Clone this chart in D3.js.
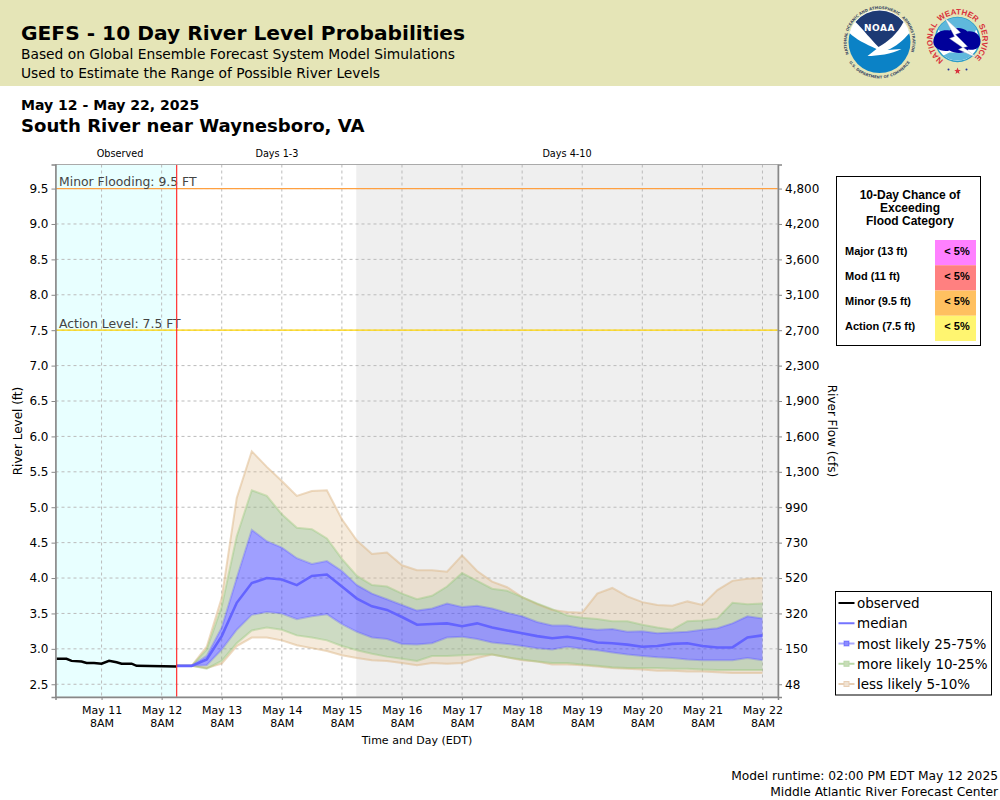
<!DOCTYPE html>
<html>
<head>
<meta charset="utf-8">
<script src="https://cdn.jsdelivr.net/npm/d3@7"></script>
<style>
  html, body { margin: 0; padding: 0; background: #fff; }
  svg { display: block; }
  text { font-family: "DejaVu Sans", sans-serif; fill: #000; }
  .box text { font-family: "Liberation Sans", Arial, sans-serif; font-weight: bold; }
</style>
</head>
<body>
<script>
// river level in ft
const observedTimes = ['2025-05-10T14:00', '2025-05-10T18:00', '2025-05-10T20:00', '2025-05-11T00:00',
  '2025-05-11T02:00', '2025-05-11T05:00', '2025-05-11T08:00', '2025-05-11T11:00', '2025-05-11T14:00',
  '2025-05-11T16:00', '2025-05-11T20:00', '2025-05-11T22:00', '2025-05-12T14:00'];
const observed = [2.86, 2.86, 2.83, 2.82, 2.80, 2.80, 2.79, 2.83, 2.81, 2.79, 2.79, 2.76, 2.75];

// forecast is 6-hourly, May 12 2PM to May 22 8AM
const q95 = [2.76, 2.76, 3.03, 3.72, 5.13, 5.79, 5.57, 5.37, 5.16, 5.23, 5.24, 4.83, 4.53, 4.34, 4.36, 4.18, 4.11, 4.11, 4.09, 4.32,
  4.10, 3.95, 3.87, 3.73, 3.63, 3.55, 3.52, 3.51, 3.78, 3.86, 3.74, 3.66, 3.62, 3.61, 3.67, 3.62, 3.83, 3.96, 3.99, 4.00];
const q90 = [2.76, 2.76, 2.99, 3.60, 4.59, 5.24, 5.16, 4.90, 4.71, 4.69, 4.56, 4.27, 4.03, 3.90, 3.88, 3.78, 3.70, 3.75, 3.88, 4.07,
  3.96, 3.85, 3.82, 3.73, 3.64, 3.56, 3.47, 3.44, 3.42, 3.39, 3.39, 3.34, 3.30, 3.27, 3.39, 3.40, 3.43, 3.65, 3.63, 3.64];
const q75 = [2.76, 2.76, 2.90, 3.30, 4.00, 4.68, 4.52, 4.43, 4.28, 4.20, 4.24, 4.10, 3.90, 3.78, 3.70, 3.62, 3.54, 3.57, 3.64, 3.59,
  3.61, 3.57, 3.51, 3.46, 3.38, 3.33, 3.33, 3.29, 3.27, 3.28, 3.24, 3.25, 3.22, 3.23, 3.24, 3.27, 3.29, 3.36, 3.46, 3.43];
const median = [2.76, 2.76, 2.85, 3.18, 3.65, 3.93, 4.00, 3.98, 3.90, 4.03, 4.05, 3.88, 3.71, 3.60, 3.55, 3.45, 3.34, 3.35, 3.36, 3.32,
  3.36, 3.30, 3.26, 3.22, 3.18, 3.15, 3.17, 3.14, 3.09, 3.08, 3.06, 3.03, 3.04, 3.07, 3.08, 3.04, 3.02, 3.02, 3.16, 3.19];
const q25 = [2.76, 2.76, 2.77, 2.99, 3.27, 3.48, 3.52, 3.50, 3.42, 3.46, 3.49, 3.35, 3.24, 3.16, 3.14, 3.07, 3.06, 3.08, 3.16, 3.17,
  3.14, 3.09, 3.07, 3.04, 3.01, 2.99, 3.03, 3.00, 2.98, 2.95, 2.92, 2.90, 2.88, 2.87, 2.85, 2.84, 2.84, 2.84, 2.87, 2.84];
const q10 = [2.76, 2.76, 2.72, 2.83, 3.08, 3.26, 3.30, 3.27, 3.19, 3.16, 3.12, 3.04, 2.98, 2.93, 2.89, 2.86, 2.83, 2.90, 2.90, 2.91,
  2.92, 2.92, 2.88, 2.85, 2.82, 2.80, 2.80, 2.78, 2.76, 2.74, 2.73, 2.73, 2.73, 2.72, 2.72, 2.71, 2.70, 2.70, 2.70, 2.70];
const q05 = [2.76, 2.76, 2.73, 2.79, 3.04, 3.16, 3.16, 3.12, 3.05, 3.01, 2.97, 2.91, 2.87, 2.84, 2.83, 2.80, 2.77, 2.80, 2.79, 2.80,
  2.87, 2.92, 2.88, 2.84, 2.82, 2.78, 2.78, 2.77, 2.75, 2.73, 2.72, 2.71, 2.69, 2.69, 2.68, 2.68, 2.67, 2.66, 2.66, 2.66];

const levelTicks = [2.5, 3, 3.5, 4, 4.5, 5, 5.5, 6, 6.5, 7, 7.5, 8, 8.5, 9, 9.5];
const flowLabels = ['48', '150', '320', '520', '730', '990', '1,300', '1,600', '1,900', '2,300', '2,700', '3,100', '3,600', '4,200', '4,800'];
const dayTicks = ['2025-05-11', '2025-05-12', '2025-05-13', '2025-05-14', '2025-05-15', '2025-05-16',
  '2025-05-17', '2025-05-18', '2025-05-19', '2025-05-20', '2025-05-21', '2025-05-22'];

const floodNames = ['Major (13 ft)', 'Mod (11 ft)', 'Minor (9.5 ft)', 'Action (7.5 ft)'];
const floodChance = ['< 5%', '< 5%', '< 5%', '< 5%'];
const floodColors = ['#ff80ff', '#ff8080', '#ffc060', '#fff570'];

const legendNames = ['observed', 'median', 'most likely 25-75%', 'more likely 10-25%', 'less likely 5-10%'];

const BLUE = 'rgba(64,64,255,0.5)', GREEN = 'rgba(150,180,130,0.48)', TAN = 'rgba(222,184,135,0.3)';
const BLUE_EDGE = 'rgba(64,64,255,0.25)', GREEN_EDGE = 'rgba(150,200,120,0.4)', TAN_EDGE = 'rgba(222,184,135,0.5)';

const parseTime = d3.timeParse('%Y-%m-%dT%H:%M');
const runTime = parseTime('2025-05-12T14:00');
const days13 = parseTime('2025-05-15T13:45');
const forecastTimes = d3.timeHour.range(runTime, parseTime('2025-05-22T09:00'), 6);

const svg = d3.select('body').append('svg').attr('width', 1000).attr('height', 800);

// header band
svg.append('rect').attr('width', 1000).attr('height', 86).attr('fill', '#e5e5b7');
const addText = (tx, ty, str, size, weight, anchor) => svg.append('text')
  .attr('x', tx).attr('y', ty)
  .attr('text-anchor', anchor || 'start')
  .style('font-size', size + 'px')
  .style('font-weight', weight || 'normal')
  .text(str);

addText(21, 40, 'GEFS - 10 Day River Level Probabilities', 20.2, 'bold');
addText(21, 59, 'Based on Global Ensemble Forecast System Model Simulations', 13.8);
addText(21, 78, 'Used to Estimate the Range of Possible River Levels', 13.8);
addText(21, 110, 'May 12 - May 22, 2025', 14.05, 'bold');
addText(21, 132, 'South River near Waynesboro, VA', 18.1, 'bold');
addText(120, 157, 'Observed', 9.7, 'normal', 'middle');
addText(277, 157, 'Days 1-3', 9.7, 'normal', 'middle');
addText(567, 157, 'Days 4-10', 9.7, 'normal', 'middle');
addText(998, 780, 'Model runtime: 02:00 PM EDT May 12 2025', 12.27, 'normal', 'end');
addText(998, 796, 'Middle Atlantic River Forecast Center', 12.27, 'normal', 'end');

// plot
const plotL = 55.5, plotR = 778, plotT = 164.5, plotB = 697;
const x = d3.scaleTime()
  .domain([parseTime('2025-05-10T13:36'), parseTime('2025-05-22T14:12')])
  .range([plotL, plotR]);
const y = d3.scaleLinear().domain([2.32, 9.84]).range([plotB, plotT]);

svg.append('rect').attr('x', plotL).attr('y', plotT)
  .attr('width', x(runTime) - plotL).attr('height', plotB - plotT).attr('fill', '#e8ffff');
svg.append('rect').attr('x', x(days13)).attr('y', plotT)
  .attr('width', plotR - x(days13)).attr('height', plotB - plotT).attr('fill', '#efefef');

const dayDates = dayTicks.map(d => parseTime(d + 'T08:00'));

// grid
svg.append('g').selectAll('line').data(levelTicks).enter().append('line')
  .attr('x1', plotL).attr('x2', plotR).attr('y1', d => y(d)).attr('y2', d => y(d))
  .attr('stroke', '#bbb').attr('stroke-dasharray', '3,3');
svg.append('g').selectAll('line').data(dayDates).enter().append('line')
  .attr('x1', d => x(d)).attr('x2', d => x(d)).attr('y1', plotT).attr('y2', plotB)
  .attr('stroke', '#bbb').attr('stroke-dasharray', '3,3');

// bands
const band = (upper, lower) => d3.area()
  .x((d, i) => x(forecastTimes[i]))
  .y0((d, i) => y(lower[i]))
  .y1((d, i) => y(upper[i]))(forecastTimes);
const trace = d3.line().x((d, i) => x(forecastTimes[i])).y(d => y(d));

[[q95, q90, TAN], [q10, q05, TAN], [q90, q75, GREEN], [q25, q10, GREEN], [q75, q25, BLUE]].forEach(b => {
  svg.append('path').attr('d', band(b[0], b[1])).attr('fill', b[2]);
});
[[q95, TAN_EDGE], [q05, TAN_EDGE], [q90, GREEN_EDGE], [q10, GREEN_EDGE], [q75, BLUE_EDGE], [q25, BLUE_EDGE]].forEach(e => {
  svg.append('path').attr('d', trace(e[0])).attr('fill', 'none').attr('stroke', e[1]).attr('stroke-width', 2);
});
svg.append('path').attr('d', trace(median)).attr('fill', 'none')
  .attr('stroke', '#6464ff').attr('stroke-width', 2.6);

svg.append('path')
  .attr('d', d3.line().x((d, i) => x(parseTime(observedTimes[i]))).y(d => y(d))(observed))
  .attr('fill', 'none').attr('stroke', '#000').attr('stroke-width', 2.5);

// flood lines
svg.append('line').attr('x1', plotL).attr('x2', plotR).attr('y1', y(9.5)).attr('y2', y(9.5))
  .attr('stroke', '#ffa040').attr('stroke-width', 1.2);
svg.append('line').attr('x1', plotL).attr('x2', plotR).attr('y1', y(7.5)).attr('y2', y(7.5))
  .attr('stroke', '#ffd400').attr('stroke-width', 1.2);
addText(59, 186, 'Minor Flooding: 9.5 FT', 12.4).style('fill', '#444');
addText(59, 328, 'Action Level: 7.5 FT', 12.4).style('fill', '#444');
svg.append('line').attr('x1', x(runTime)).attr('x2', x(runTime)).attr('y1', plotT).attr('y2', plotB)
  .attr('stroke', '#ff3030').attr('stroke-width', 1.2);

// frame and axes
svg.append('rect').attr('x', plotL).attr('y', plotT).attr('width', plotR - plotL).attr('height', plotB - plotT)
  .attr('fill', 'none').attr('stroke', '#aaa');

const styleAxis = g => {
  g.selectAll('.domain').attr('stroke', '#888').attr('stroke-width', 1.5);
  g.selectAll('.tick line').attr('stroke', '#888');
  g.selectAll('.tick text').style('font-size', '12px').style('font-family', '"DejaVu Sans", sans-serif');
};

svg.append('g').attr('transform', `translate(${plotL},0)`)
  .call(d3.axisLeft(y).tickValues(levelTicks).tickFormat(d3.format('.1f')).tickSizeOuter(0).tickSize(4))
  .call(styleAxis);

svg.append('g').attr('transform', `translate(${plotR},0)`)
  .call(d3.axisRight(y).tickValues(levelTicks).tickFormat((d, i) => flowLabels[i]).tickSizeOuter(0).tickSize(4))
  .call(styleAxis);

const xAxis = svg.append('g').attr('transform', `translate(0,${plotB})`)
  .call(d3.axisBottom(x).tickValues(dayDates).tickFormat(d3.timeFormat('%b %d')).tickSizeOuter(0).tickSize(3))
  .call(styleAxis);
xAxis.selectAll('.tick text').each(function () {
  const label = d3.select(this);
  const day = label.text();
  label.text(null).style('font-size', '11px');
  label.append('tspan').attr('x', 0).attr('y', 9).attr('dy', '0.71em').text(day);
  label.append('tspan').attr('x', 0).attr('y', 22).attr('dy', '0.71em').text('8AM');
});

addText(417, 744, 'Time and Day (EDT)', 11, 'normal', 'middle');
svg.append('text').attr('transform', 'translate(22,431) rotate(-90)').attr('text-anchor', 'middle')
  .style('font-size', '12px').text('River Level (ft)');
svg.append('text').attr('transform', 'translate(828,431) rotate(90)').attr('text-anchor', 'middle')
  .style('font-size', '12px').text('River Flow (cfs)');

// flood category box
const box = svg.append('g').attr('class', 'box');
box.append('rect').attr('x', 836.5).attr('y', 176.5).attr('width', 144).attr('height', 169)
  .attr('fill', '#fff').attr('stroke', '#000');
['10-Day Chance of', 'Exceeding', 'Flood Category'].forEach((t, i) => {
  box.append('text').attr('x', 910).attr('y', 199 + i * 13).attr('text-anchor', 'middle')
    .style('font-size', '12px').text(t);
});
const rowY = d3.scaleBand().domain(floodNames).range([240, 341]);
floodNames.forEach((cat, i) => {
  box.append('rect').attr('x', 935).attr('y', rowY(cat)).attr('width', 41).attr('height', rowY.bandwidth())
    .attr('fill', floodColors[i]);
  box.append('text').attr('x', 845).attr('y', Math.floor(rowY(cat)) + 15).style('font-size', '11px').text(cat);
  box.append('text').attr('x', 957).attr('y', Math.floor(rowY(cat)) + 15).attr('text-anchor', 'middle')
    .style('font-size', '11px').text(floodChance[i]);
});

// legend
const legendBox = svg.append('g');
legendBox.append('rect').attr('x', 835.5).attr('y', 591.5).attr('width', 156).attr('height', 103.5)
  .attr('fill', '#fff').attr('stroke', '#000');
const legendY = d3.scalePoint().domain(legendNames).range([603, 684]);
const legendStyle = [
  { line: '#000', width: 2 },
  { line: '#7474ff', width: 2 },
  { line: 'rgba(64,64,255,0.45)', width: 2, fill: '#8c8cff' },
  { line: '#b9d8a8', width: 2, fill: '#c8dcb8' },
  { line: '#e8cfb5', width: 2, fill: '#f0e2d2' }
];
legendNames.forEach((entry, i) => {
  const ly = legendY(entry), st = legendStyle[i];
  legendBox.append('line').attr('x1', 838.5).attr('x2', 854.5).attr('y1', ly).attr('y2', ly)
    .attr('stroke', st.line).attr('stroke-width', st.width);
  if (st.fill) {
    legendBox.append('rect').attr('x', 844).attr('y', ly - 2.5).attr('width', 5).attr('height', 5)
      .attr('fill', st.fill).attr('stroke', st.line);
  }
  legendBox.append('text').attr('x', 857).attr('y', ly + 5).style('font-size', '13.5px').text(entry);
});

// curved logo text: angles in degrees clockwise from the top
const arcPath = (r, a0, a1) => {
  const rad = d => d * Math.PI / 180;
  const sweep = a1 > a0 ? 1 : 0;
  const big = Math.abs(a1 - a0) > 180 ? 1 : 0;
  return `M${r * Math.sin(rad(a0))},${-r * Math.cos(rad(a0))} A${r},${r} 0 ${big} ${sweep} ${r * Math.sin(rad(a1))},${-r * Math.cos(rad(a1))}`;
};
const arcText = (g, id, str, r, a0, a1, size, color, family) => {
  g.append('path').attr('id', id).attr('fill', 'none').attr('d', arcPath(r, a0, a1));
  g.append('text').style('font-size', size + 'px').style('font-weight', 'bold').style('fill', color)
    .style('font-family', family || '"DejaVu Sans", sans-serif')
    .append('textPath').attr('href', '#' + id).attr('startOffset', '50%').attr('text-anchor', 'middle')
    .text(str);
};

// NOAA logo
const noaa = svg.append('g').attr('transform', 'translate(879.5,42)');
noaa.append('circle').attr('r', 31).attr('fill', '#0b82c6');
noaa.append('path').attr('fill', '#fff')
  .attr('d', 'M-30,-9 A31,31 0 0 1 30,-9 C24,-2 16,5 8,8 L22,7 C12,12 -2,14 -12,14 L-3,7 C-14,2 -24,-3 -30,-9Z');
noaa.append('path').attr('fill', '#1d3a74')
  .attr('d', 'M-24,-20 A31,31 0 0 1 24,-20 C18,-8 8,0 -1,5 C-8,-2 -16,-12 -24,-20Z');
noaa.append('text').attr('y', -11).attr('text-anchor', 'middle')
  .style('font-size', '9px').style('font-weight', 'bold').style('letter-spacing', '0.5px').style('fill', '#fff').text('NOAA');
arcText(noaa, 'noaaLeft', 'NATIONAL OCEANIC', 33, -125, -25, 3.8, '#3c4a66');
arcText(noaa, 'noaaTop', 'AND ATMOSPHERIC', 33, -40, 40, 3.8, '#3c4a66');
arcText(noaa, 'noaaRight', 'ADMINISTRATION', 33, 25, 125, 3.8, '#3c4a66');
arcText(noaa, 'noaaBottom', 'U.S. DEPARTMENT OF COMMERCE', 36.5, 240, 120, 3.8, '#3c4a66');

// NWS logo
const nws = svg.append('g').attr('transform', 'translate(957.5,39.5)');
nws.append('circle').attr('r', 22).attr('fill', '#fff').attr('stroke', '#2b9cc8').attr('stroke-width', 1.5);
nws.append('path').attr('fill', '#5fb8dc').attr('d', 'M-19,-11 A22,22 0 0 1 19,-11 L16,-4 L-16,-4Z');
nws.append('path').attr('fill', '#5fb8dc').attr('d', 'M-14,16 A22,22 0 0 0 14,16 L8,13 L-8,13Z');
nws.append('path').attr('fill', '#00009a')
  .attr('d', 'M-24,0 C-22,-9 -13,-10 -8,-9 C-2,-13 6,-12 10,-8 C17,-9 23,-5 23,2 C23,9 17,11 11,10 C6,15 -3,14 -8,11 C-15,13 -26,9 -24,0Z');
nws.append('path').attr('fill', '#fff').attr('stroke', '#9ab').attr('stroke-width', 0.4)
  .attr('d', 'M-13,-22 L3,-7 L-2,-5 L10,7 L6,8 L21,19 L1,10 L5,8 L-8,-1 L-3,-3Z');
const logoFont = '"Liberation Sans", Arial, sans-serif';
arcText(nws, 'nwsLeft', 'NATIONAL', 25, -155, -43, 8, '#d8323c', logoFont);
arcText(nws, 'nwsTop', 'WEATHER', 25, -52, 54, 8, '#d8323c', logoFont);
arcText(nws, 'nwsRight', 'SERVICE', 25, 45, 149, 8, '#d8323c', logoFont);
nws.append('g').selectAll('circle').data([-9, 9]).enter().append('circle')
  .attr('cx', d => d).attr('cy', 30).attr('r', 1)
  .attr('fill', '#23349a');
nws.append('path').attr('fill', '#d8323c').attr('d', 'M0,28 L1,30.5 L3.2,30.5 L1.4,32 L2,34.5 L0,33 L-2,34.5 L-1.4,32 L-3.2,30.5 L-1,30.5Z');
</script>
</body>
</html>
